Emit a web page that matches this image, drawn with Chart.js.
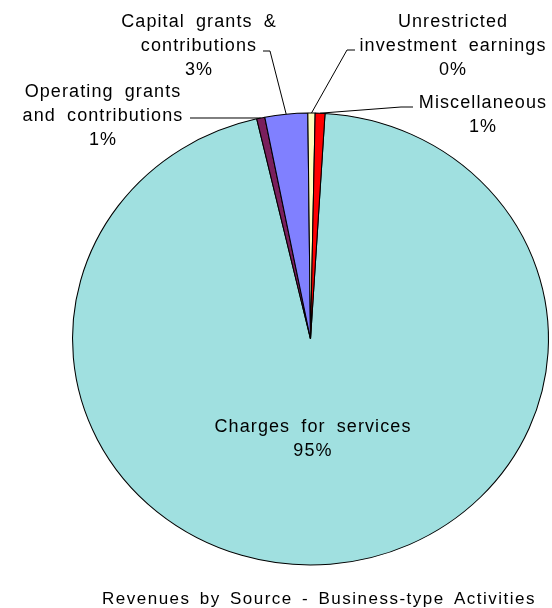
<!DOCTYPE html>
<html>
<head>
<meta charset="utf-8">
<title>Revenues by Source</title>
<script src="https://cdn.jsdelivr.net/npm/chart.js@4.4.1/dist/chart.umd.min.js"></script>
<style>
    html, body { margin: 0; padding: 0; background: #fff; }
    #wrap { width: 552px; height: 608px; position: relative; }
</style>
</head>
<body>
<div id="wrap"><canvas id="revChart" width="552" height="608"></canvas></div>
<script>
// ---- Data ------------------------------------------------------------------
const categories = [
    "Charges for services",
    "Operating grants and contributions",
    "Capital grants & contributions",
    "Unrestricted investment earnings",
    "Miscellaneous",
];
const shares = [95.4, 0.55, 2.9, 0.49, 0.66];
const sliceColors = ["#A0E0E0", "#7A1F5C", "#8080FF", "#FFFFC0", "#FF0000"];
const labelLines = [
    ["Charges for services"],
    ["Operating grants", "and contributions"],
    ["Capital grants &", "contributions"],
    ["Unrestricted", "investment earnings"],
    ["Miscellaneous"],
];
const chartTitle = "Revenues by Source - Business-type Activities";

// ---- Layout ----------------------------------------------------------------
const STRETCH_X = 1.053;          // pie is drawn slightly wider than tall
const FONT = '18px "Liberation Sans", Arial, sans-serif';
const LINE_H = 24;

// where each label sits; lead = leader line start (near the text)
const labelPos = [
    { x: 313, y: 432, lead: null },
    { x: 103, y: 97, lead: [190, 118] },
    { x: 199, y: 27, lead: [263, 51, 270, 51] },
    { x: 453, y: 27, lead: [355, 50, 347, 50] },
    { x: 483, y: 108, lead: [413, 107, 401, 107] },
];

const pct = (v) => Math.round(v) + "%";

function setSpacing(ctx, letter, word) {
    if ("letterSpacing" in ctx) ctx.letterSpacing = letter + "px";
    if ("wordSpacing" in ctx) ctx.wordSpacing = word + "px";
}

// Stretch the pie horizontally around its centre
const stretchPlugin = {
    id: "stretch",
    beforeDatasetsDraw(chart) {
        const arc = chart.getDatasetMeta(0).data[0];
        const ctx = chart.ctx;
        ctx.save();
        ctx.translate(arc.x, arc.y);
        ctx.scale(STRETCH_X, 1);
        ctx.translate(-arc.x, -arc.y);
    },
    afterDatasetsDraw(chart) {
        chart.ctx.restore();
    },
};

// Category labels with leader lines, plus the caption underneath
const labelPlugin = {
    id: "sliceLabels",
    afterDraw(chart) {
        const ctx = chart.ctx;
        const arcs = chart.getDatasetMeta(0).data;
        ctx.save();
        ctx.font = FONT;
        ctx.fillStyle = "#000";
        ctx.textAlign = "center";
        ctx.textBaseline = "alphabetic";
        setSpacing(ctx, 1.1, 5);

        arcs.forEach((arc, i) => {
            const p = labelPos[i];
            const lines = labelLines[i].concat([pct(shares[i])]);
            lines.forEach((t, k) => ctx.fillText(t, p.x, p.y + k * LINE_H));

            if (p.lead) {
                const mid = (arc.startAngle + arc.endAngle) / 2;
                const ex = arc.x + Math.cos(mid) * arc.outerRadius * STRETCH_X;
                const ey = arc.y + Math.sin(mid) * arc.outerRadius;
                ctx.beginPath();
                ctx.strokeStyle = "#000";
                ctx.lineWidth = 1;
                ctx.moveTo(p.lead[0], p.lead[1]);
                for (let j = 2; j < p.lead.length; j += 2) ctx.lineTo(p.lead[j], p.lead[j + 1]);
                ctx.lineTo(ex, ey);
                ctx.stroke();
            }
        });

        ctx.font = '17px "Liberation Sans", Arial, sans-serif';
        setSpacing(ctx, 1.5, 3);
        ctx.fillText(chartTitle, 319, 604);
        ctx.restore();
    },
};

new Chart(document.getElementById("revChart"), {
    type: "pie",
    data: {
        labels: categories,
        datasets: [
            {
                data: shares,
                backgroundColor: sliceColors,
                borderColor: "#000",
                borderWidth: 1,
            },
        ],
    },
    options: {
        responsive: false,
        animation: false,
        rotation: 3.5,
        layout: { padding: { left: 84, right: 15, top: 112, bottom: 42 } },
        plugins: { legend: { display: false }, tooltip: { enabled: false } },
    },
    plugins: [stretchPlugin, labelPlugin],
});
</script>
</body>
</html>
